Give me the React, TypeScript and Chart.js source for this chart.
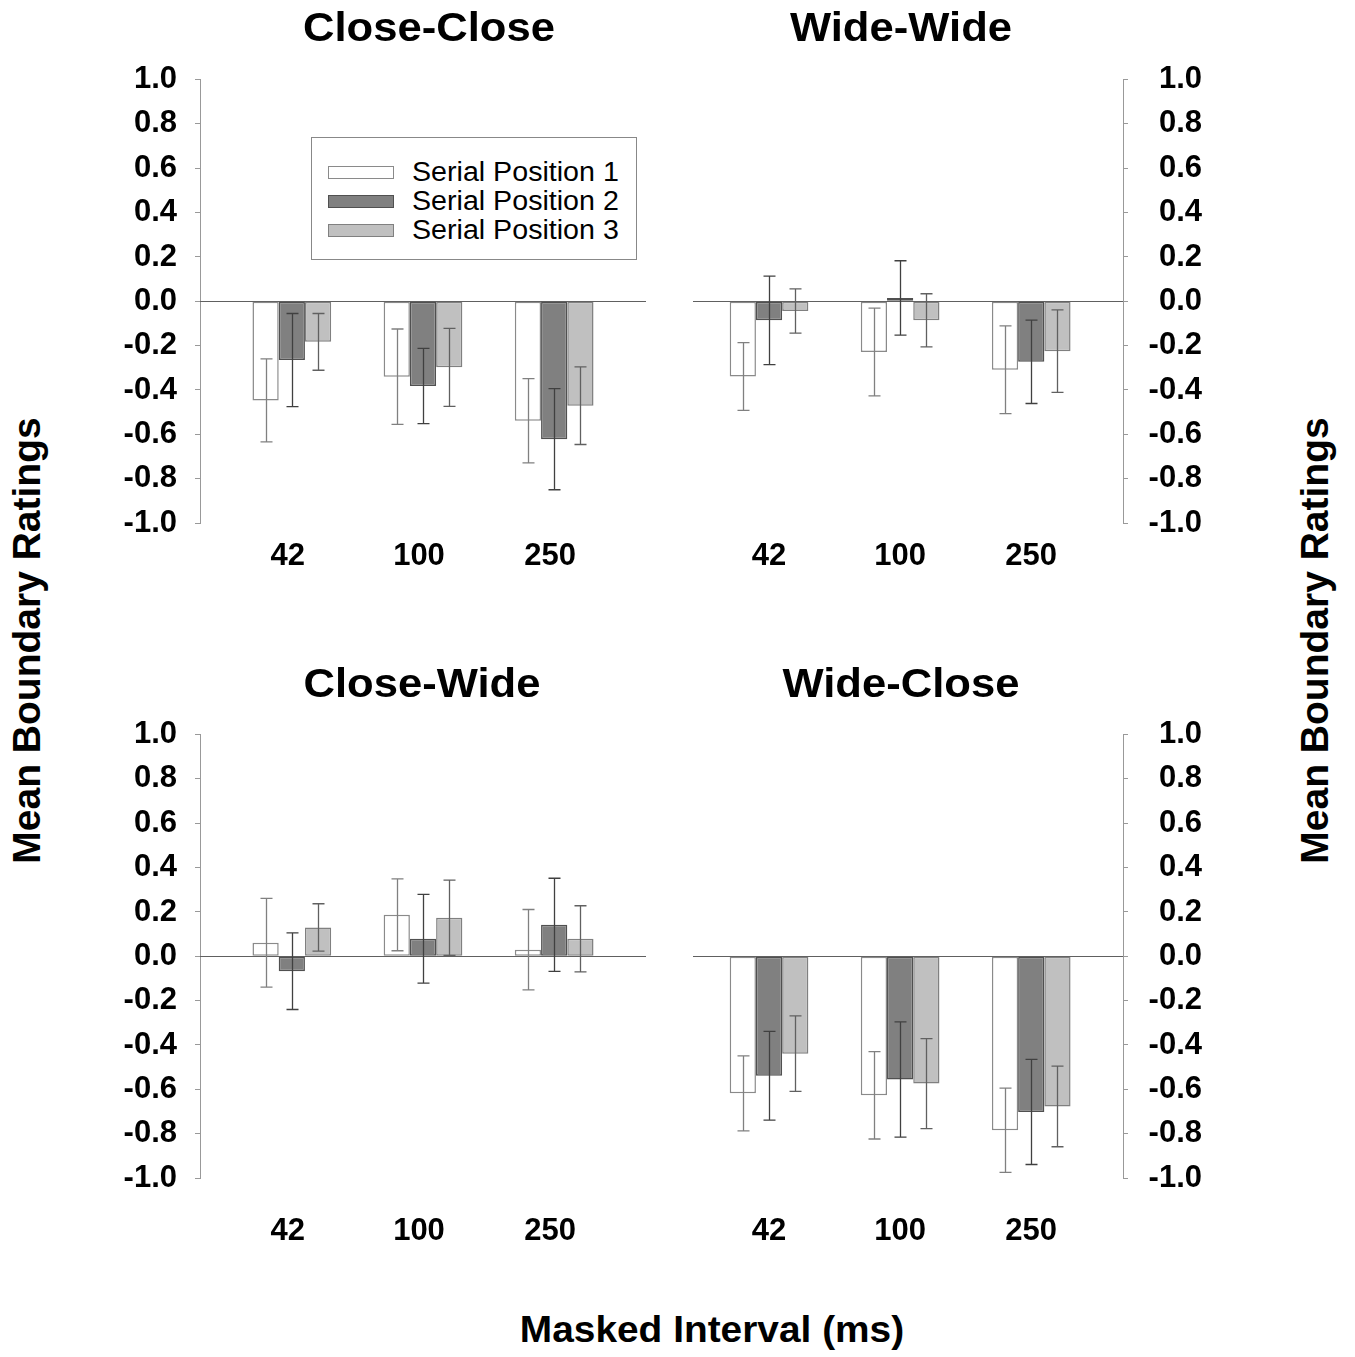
import React, { useEffect, useRef } from 'react';
import { Chart, registerables } from 'chart.js';
Chart.register(...registerables);

const FONT = "'Liberation Sans', Arial, Helvetica, sans-serif";

// ---- data ----
const categories = ['42', '100', '250'];
const seriesLabels = ['Serial Position 1', 'Serial Position 2', 'Serial Position 3'];
const yTickValues = [-1, -0.8, -0.6, -0.4, -0.2, 0, 0.2, 0.4, 0.6, 0.8, 1];
const yTickLabels = ['-1.0', '-0.8', '-0.6', '-0.4', '-0.2', '0.0', '0.2', '0.4', '0.6', '0.8', '1.0'];

// Close-Close
const ccS1 = [-0.447, -0.34, -0.539];
const ccS2 = [-0.265, -0.382, -0.622];
const ccS3 = [-0.183, -0.298, -0.471];
const ccE1 = [0.187, 0.215, 0.19];
const ccE2 = [0.21, 0.17, 0.228];
const ccE3 = [0.128, 0.176, 0.175];

// Wide-Wide
const wwS1 = [-0.339, -0.229, -0.309];
const wwS2 = [-0.086, 0.015, -0.273];
const wwS3 = [-0.044, -0.086, -0.225];
const wwE1 = [0.153, 0.198, 0.198];
const wwE2 = [0.2, 0.168, 0.188];
const wwE3 = [0.1, 0.12, 0.186];

// Close-Wide
const cwS1 = [0.061, 0.187, 0.03];
const cwS2 = [-0.067, 0.079, 0.142];
const cwS3 = [0.13, 0.174, 0.079];
const cwE1 = [0.2, 0.162, 0.181];
const cwE2 = [0.173, 0.2, 0.21];
const cwE3 = [0.107, 0.17, 0.149];

// Wide-Close
const wcS1 = [-0.618, -0.627, -0.785];
const wcS2 = [-0.539, -0.556, -0.702];
const wcS3 = [-0.439, -0.574, -0.677];
const wcE1 = [0.169, 0.197, 0.19];
const wcE2 = [0.2, 0.26, 0.237];
const wcE3 = [0.17, 0.203, 0.182];

// ---- styles ----
const fills = ['#ffffff', '#808080', '#c0c0c0'];
const borders = ['#8a8a8a', '#505050', '#808080'];
const errColors = ['#808080', '#404040', '#606060'];

const panelPlugin = {
  id: 'panelExtras',
  beforeDatasetsDraw(chart: any) {
    const { ctx, chartArea, scales } = chart;
    const y0 = Math.round(scales.y.getPixelForValue(0)) + 0.5;
    ctx.save();
    ctx.strokeStyle = '#606060';
    ctx.lineWidth = 1;
    ctx.beginPath();
    ctx.moveTo(chartArea.left, y0);
    ctx.lineTo(chartArea.right, y0);
    ctx.stroke();
    ctx.restore();
  },
  afterDatasetsDraw(chart: any) {
    const { ctx, scales } = chart;
    chart.data.datasets.forEach((ds: any, di: number) => {
      const meta = chart.getDatasetMeta(di);
      meta.data.forEach((bar: any, i: number) => {
        const m = ds.data[i].y;
        const e = ds.errors[i];
        const yHi = scales.y.getPixelForValue(m + e);
        const yLo = scales.y.getPixelForValue(m - e);
        const x = Math.round(bar.x) + 0.5;
        ctx.save();
        ctx.strokeStyle = ds.errorColor;
        ctx.lineWidth = 1.3;
        ctx.beginPath();
        ctx.moveTo(x, yHi);
        ctx.lineTo(x, yLo);
        ctx.moveTo(x - 6, yHi);
        ctx.lineTo(x + 6, yHi);
        ctx.moveTo(x - 6, yLo);
        ctx.lineTo(x + 6, yLo);
        ctx.stroke();
        ctx.restore();
      });
    });
  },
};

type PanelProps = {
  left: number;
  top: number;
  width: number;
  height: number;
  padding: { top: number; right: number; bottom: number; left: number };
  yPos: 'left' | 'right';
  yWidth: number;
  xHeight: number;
  xPad: number;
  xMin: number;
  xMax: number;
  labelOffset: number;
  series: number[][];
  errors: number[][];
};

function Panel(p: PanelProps) {
  const ref = useRef<HTMLCanvasElement | null>(null);
  useEffect(() => {
    if (!ref.current) return;
    const tickFont = { family: FONT, size: 31, weight: 'bold' as const };
    const chart = new Chart(ref.current, {
      type: 'bar',
      data: {
        datasets: p.series.map((s, k) => ({
          label: seriesLabels[k],
          data: s.map((v, i) => ({ x: i, y: v })),
          errors: p.errors[k],
          errorColor: errColors[k],
          backgroundColor: fills[k],
          borderColor: borders[k],
          borderWidth: 1.5,
          borderSkipped: false,
          categoryPercentage: 0.6,
          barPercentage: 1.0,
        })) as any,
      },
      options: {
        responsive: false,
        animation: false,
        devicePixelRatio: 1,
        layout: { padding: p.padding },
        plugins: {
          legend: { display: false },
          tooltip: { enabled: false },
          title: { display: false },
        },
        scales: {
          x: {
            type: 'linear',
            min: p.xMin,
            max: p.xMax,
            offset: false,
            grid: { display: false, drawTicks: false },
            border: { display: false },
            afterBuildTicks: (s: any) => {
              s.ticks = categories.map((_, i) => ({ value: i }));
            },
            afterFit: (s: any) => {
              s.height = p.xHeight;
            },
            ticks: {
              padding: p.xPad,
              labelOffset: p.labelOffset,
              autoSkip: false,
              maxRotation: 0,
              color: '#000',
              font: tickFont,
              callback: (_v: any, i: number) => categories[i],
            },
          },
          y: {
            type: 'linear',
            position: p.yPos,
            min: -1,
            max: 1,
            afterBuildTicks: (s: any) => {
              s.ticks = yTickValues.map((v) => ({ value: v }));
            },
            afterFit: (s: any) => {
              s.width = p.yWidth;
            },
            grid: { drawOnChartArea: false, drawTicks: true, tickLength: 5, color: '#999', lineWidth: 1 },
            border: { display: true, color: '#999', width: 1 },
            ticks: {
              padding: 18,
              crossAlign: p.yPos === 'right' ? 'far' : 'near',
              color: '#000',
              font: tickFont,
              callback: (_v: any, i: number) => yTickLabels[i],
            },
          },
        } as any,
      },
      plugins: [panelPlugin],
    });
    return () => chart.destroy();
  }, []);
  return (
    <canvas
      ref={ref}
      width={p.width}
      height={p.height}
      style={{ position: 'absolute', left: p.left, top: p.top, width: p.width, height: p.height }}
    />
  );
}

const textBase: React.CSSProperties = {
  position: 'absolute',
  fontFamily: FONT,
  fontWeight: 'bold',
  color: '#000',
  textAlign: 'center',
  whiteSpace: 'nowrap',
};

function Title({ text, cx, cy, size, sx }: { text: string; cx: number; cy: number; size: number; sx: number }) {
  return (
    <div
      style={{
        ...textBase,
        left: cx - 300,
        top: cy - size / 2,
        width: 600,
        height: size,
        lineHeight: `${size}px`,
        fontSize: size,
        transform: `scaleX(${sx})`,
      }}
    >
      {text}
    </div>
  );
}

function VTitle({ text, cx, cy, size }: { text: string; cx: number; cy: number; size: number }) {
  return (
    <div
      style={{
        ...textBase,
        left: cx - 300,
        top: cy - size / 2,
        width: 600,
        height: size,
        lineHeight: `${size}px`,
        fontSize: size,
        transform: 'rotate(-90deg)',
      }}
    >
      {text}
    </div>
  );
}

function Legend() {
  const rowY = [172, 201, 230];
  return (
    <div
      style={{
        position: 'absolute',
        left: 311,
        top: 137,
        width: 324,
        height: 121,
        border: '1px solid #888',
        background: '#fff',
      }}
    >
      {seriesLabels.map((lab, k) => (
        <React.Fragment key={lab}>
          <div
            style={{
              position: 'absolute',
              left: 16,
              top: rowY[k] - 137 - 6 - 1,
              width: 64,
              height: 11,
              background: fills[k],
              border: `1px solid ${borders[k]}`,
            }}
          />
          <div
            style={{
              position: 'absolute',
              left: 100,
              top: rowY[k] - 137 - 14 - 1,
              height: 28,
              lineHeight: '28px',
              fontFamily: FONT,
              fontSize: 27,
              color: '#000',
              whiteSpace: 'nowrap',
              transform: 'scaleX(1.06)',
              transformOrigin: 'left center',
            }}
          >
            {lab}
          </div>
        </React.Fragment>
      ))}
    </div>
  );
}

export default function App() {
  const topPanel = { top: 43, height: 537, xHeight: 57, xPad: 15 };
  const botPanel = { top: 698, height: 552, xHeight: 72, xPad: 35 };
  const leftCol = { left: 100, width: 560, yPos: 'left' as const, yWidth: 100, xMin: -0.7, xMax: 2.7, labelOffset: -4 };
  const rightCol = { left: 680, width: 525, yPos: 'right' as const, yWidth: 79, xMin: -0.58, xMax: 2.7, labelOffset: 0 };
  return (
    <div style={{ position: 'absolute', left: 0, top: 0, width: 1355, height: 1357, background: '#fff', overflow: 'hidden' }}>
      <Panel
        {...leftCol}
        top={topPanel.top}
        height={topPanel.height}
        xHeight={topPanel.xHeight}
        xPad={topPanel.xPad}
        padding={{ top: 36, right: 14, bottom: 0, left: 0 }}
        series={[ccS1, ccS2, ccS3]}
        errors={[ccE1, ccE2, ccE3]}
      />
      <Panel
        {...rightCol}
        top={topPanel.top}
        height={topPanel.height}
        xHeight={topPanel.xHeight}
        xPad={topPanel.xPad}
        padding={{ top: 36, right: 3, bottom: 0, left: 13 }}
        series={[wwS1, wwS2, wwS3]}
        errors={[wwE1, wwE2, wwE3]}
      />
      <Panel
        {...leftCol}
        top={botPanel.top}
        height={botPanel.height}
        xHeight={botPanel.xHeight}
        xPad={botPanel.xPad}
        padding={{ top: 36, right: 14, bottom: 0, left: 0 }}
        series={[cwS1, cwS2, cwS3]}
        errors={[cwE1, cwE2, cwE3]}
      />
      <Panel
        {...rightCol}
        top={botPanel.top}
        height={botPanel.height}
        xHeight={botPanel.xHeight}
        xPad={botPanel.xPad}
        padding={{ top: 36, right: 3, bottom: 0, left: 13 }}
        series={[wcS1, wcS2, wcS3]}
        errors={[wcE1, wcE2, wcE3]}
      />
      <Legend />
      <Title text="Close-Close" cx={429} cy={27} size={40} sx={1.09} />
      <Title text="Wide-Wide" cx={901} cy={27} size={40} sx={1.09} />
      <Title text="Close-Wide" cx={422} cy={683} size={40} sx={1.09} />
      <Title text="Wide-Close" cx={901} cy={683} size={40} sx={1.09} />
      <Title text="Masked Interval (ms)" cx={712} cy={1329} size={37} sx={1.05} />
      <VTitle text="Mean Boundary Ratings" cx={26} cy={640} size={39} />
      <VTitle text="Mean Boundary Ratings" cx={1314} cy={640} size={39} />
    </div>
  );
}
